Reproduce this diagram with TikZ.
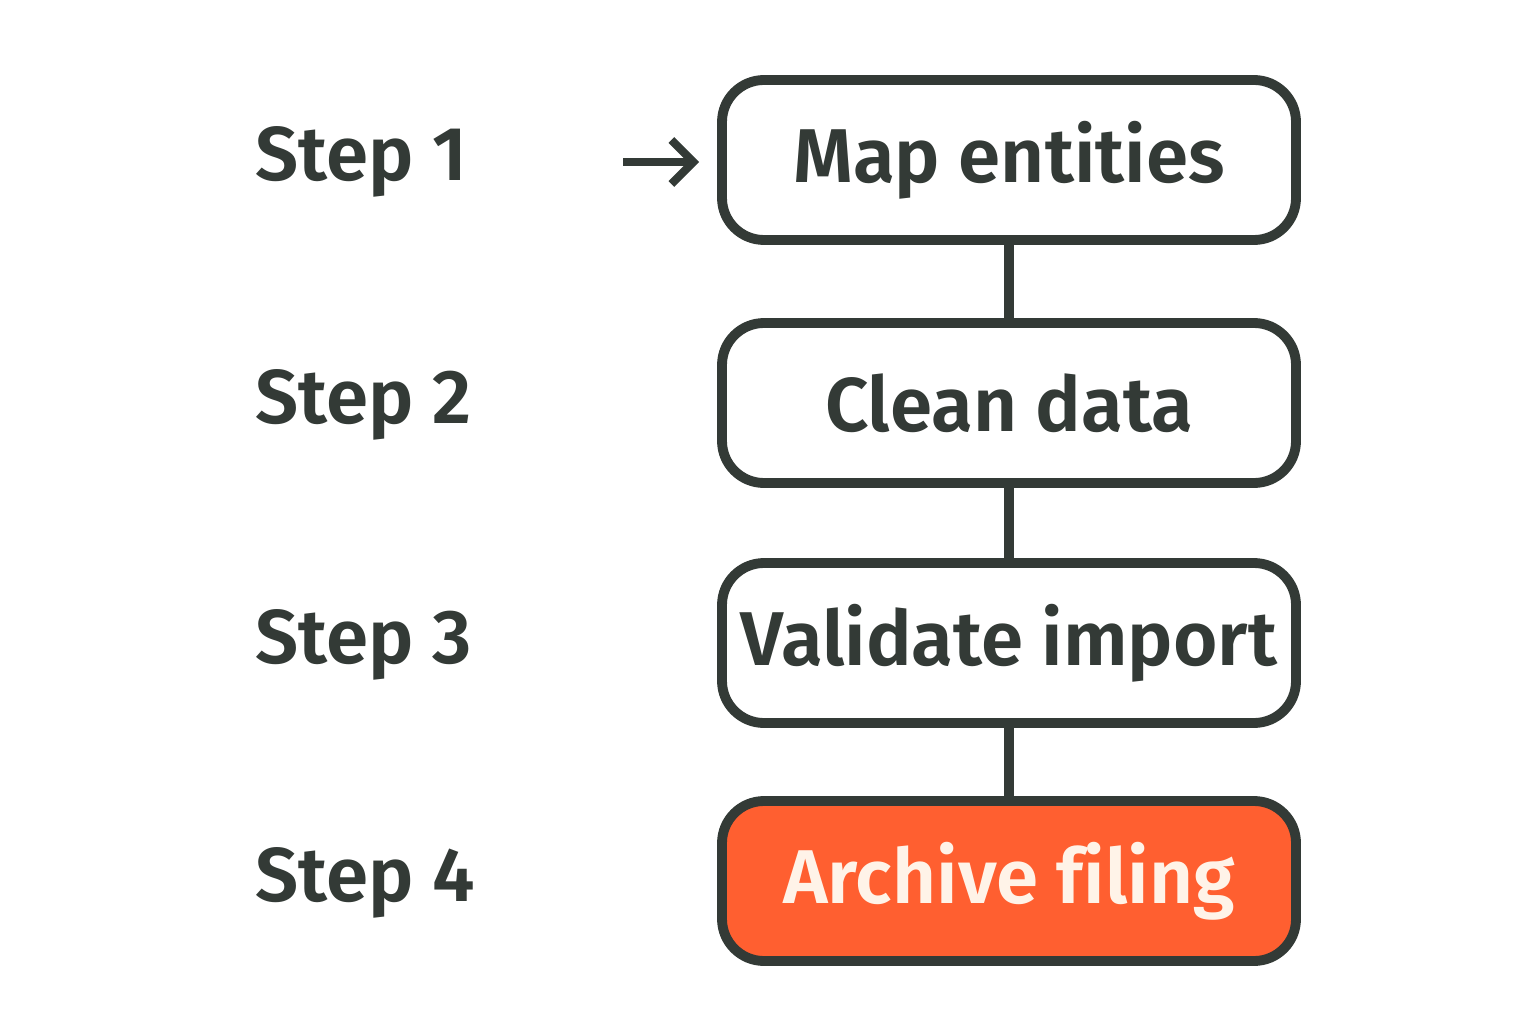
\documentclass[tikz,border=0pt]{standalone}
\usepackage{fontspec}
\setmainfont{Fira Sans}[BoldFont={Fira Sans SemiBold},Ligatures=NoCommon]
\usepackage{tikz}
\usetikzlibrary{arrows.meta,positioning}
\definecolor{Ink}{HTML}{333A36}
\definecolor{Flame}{HTML}{FF5F30}
\definecolor{Cream}{HTML}{FFF3E8}

\begin{document}
\begin{tikzpicture}[>={Straight Barb[length=2.2mm,width=4.4mm,line width=2.3pt]},
    stepbox/.style={draw=Ink, line width=2.8pt, rounded corners=0.42cm, fill=white,
      minimum width=5.74cm, minimum height=1.6cm, font=\fontsize{21.7}{26}\selectfont\bfseries, text=Ink},
    steplab/.style={anchor=west, inner sep=0pt, font=\fontsize{21.7}{26}\selectfont\bfseries, text=Ink},
    link/.style={draw=Ink, line width=2.8pt}]
    \useasboundingbox (0,0) rectangle (15.36,10.24);
    \foreach \y/\n/\lab in {8.64/1/Map entities,6.21/2/Clean data,3.81/3/Validate import} {
      \node[stepbox] (box\n) at (10.09,\y) {\lab};
      \node[steplab] (lab\n) at (2.55,\y-0.02) {Step \n};
    }
    \node[stepbox, fill=Flame, text=Cream] (box4) at (10.09,1.43) {Archive filing};
    \node[steplab] (lab4) at (2.55,1.41) {Step 4};
    \coordinate (start) at (6.23,8.62);
    \draw[->, link, line width=2.3pt] (start) -- ([xshift=-0.18cm]box1.west |- start);
    \foreach \a/\b in {1/2,2/3,3/4}
      \draw[link] (box\a) -- (box\b);
  \end{tikzpicture}
\end{document}
